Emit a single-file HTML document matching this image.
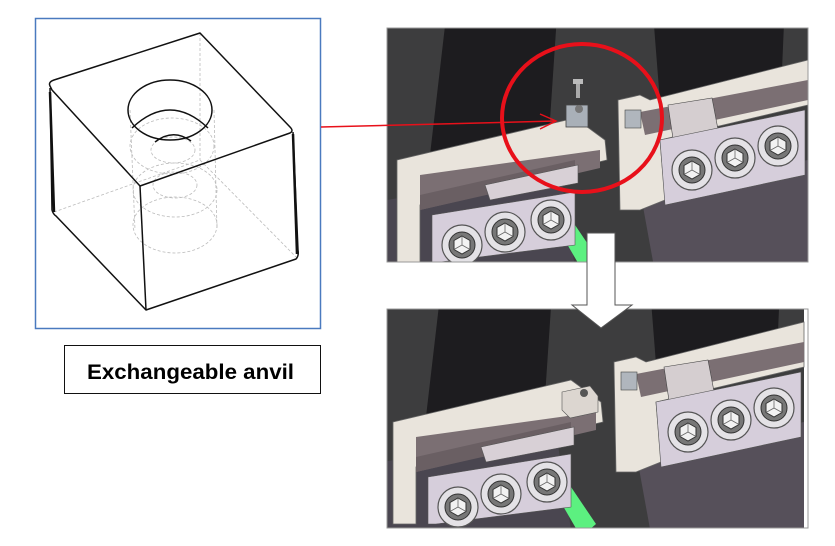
<!DOCTYPE html>
<html><head><meta charset="utf-8"><style>
html,body{margin:0;padding:0;background:#fff;}
svg{display:block;}
text{font-family:"Liberation Sans",sans-serif;}
</style></head><body>
<svg width="835" height="546" viewBox="0 0 835 546" xmlns="http://www.w3.org/2000/svg">
<defs>
<clipPath id="c1"><rect x="387" y="28" width="421" height="234"/></clipPath>
<clipPath id="c2"><rect x="387" y="309" width="421" height="219"/></clipPath>
<g id="bolt">
  <circle r="20" fill="#e4e2e6" stroke="#555" stroke-width="1.2"/>
  <circle r="13" fill="#777" stroke="#333" stroke-width="1"/>
  <polygon points="0,-9 8,-4.5 8,4.5 0,9 -8,4.5 -8,-4.5" fill="#f2f2f2" stroke="#333" stroke-width="1"/>
  <path d="M0,0 L0,-9 M0,0 L8,4.5 M0,0 L-8,4.5" stroke="#666" stroke-width="0.8"/>
</g>
<g id="scene">
  <rect x="387" y="0" width="421" height="300" fill="#3d3d3e"/>
  <polygon points="640,190 808,160 808,300 660,300" fill="#56505a"/>
  <polygon points="387,200 560,170 580,300 387,300" fill="#4a4650"/>
  <polygon points="448,0 558,0 548,150 428,172" fill="#1d1c1f"/>
  <polygon points="652,0 785,0 782,70 660,102" fill="#1d1c1f"/>
  <polygon points="560,232 575,225 600,262 585,275" fill="#5cf080"/>
  <polygon points="397,160 575,118 605,140 607,160 420,205 420,262 397,262" fill="#e9e4dc" stroke="#666" stroke-width="0.8"/>
  <polygon points="420,175 600,150 600,168 420,210" fill="#7b6f73"/>
  <polygon points="420,195 575,160 575,175 420,210" fill="#6a5f63"/>
  <polygon points="485,185 578,165 578,183 490,200" fill="#d8d0d6" stroke="#555" stroke-width="0.6"/>
  <polygon points="432,215 575,192 575,245 440,262 432,262" fill="#d6cedb" stroke="#555" stroke-width="0.6"/>
  <use href="#bolt" x="462" y="245"/>
  <use href="#bolt" x="505" y="232"/>
  <use href="#bolt" x="551" y="220"/>
  <polygon points="618,100 640,95 650,100 800,62 808,60 808,105 660,140 665,200 640,210 620,210" fill="#e9e4dc" stroke="#666" stroke-width="0.8"/>
  <polygon points="640,112 808,80 808,100 645,135" fill="#7b6f73"/>
  <polygon points="668,105 712,98 720,140 675,152" fill="#d5ced0" stroke="#444" stroke-width="0.6"/>
  <polygon points="660,140 805,110 805,175 665,205" fill="#d6cedb" stroke="#555" stroke-width="0.6"/>
  <rect x="625" y="110" width="16" height="18" fill="#b0b6bd" stroke="#444" stroke-width="0.6"/>
  <use href="#bolt" x="692" y="170"/>
  <use href="#bolt" x="735" y="158"/>
  <use href="#bolt" x="778" y="146"/>
</g>
</defs>

<rect x="35.5" y="18.5" width="285" height="310" fill="#fff" stroke="#4a7abf" stroke-width="1.5"/>
<g fill="none" stroke="#bbb" stroke-width="0.8" stroke-dasharray="3,2">
  <path d="M200,33 L200,160 M54,212 L200,160 L297,258"/>
  <ellipse cx="172" cy="146" rx="42" ry="28"/>
  <ellipse cx="173" cy="150" rx="22" ry="13"/>
  <ellipse cx="175" cy="190" rx="42" ry="27"/>
  <ellipse cx="175" cy="185" rx="22" ry="13"/>
  <ellipse cx="175" cy="225" rx="42" ry="28"/>
  <path d="M130,110 L135,230 M214,110 L217,230"/>
</g>
<g fill="none" stroke="#111" stroke-width="1.5" stroke-linejoin="round">
  <path d="M50,86 Q48,82 54,80 L200,33 L290,127 Q294,131 290,133 L140,186 L52,90 Z"/>
  <path d="M50,88 L52,210 Q53,214 56,216 L146,310 L296,259 Q299,256 298,250 L293,132"/>
  <path d="M140,186 L146,310"/>
  <path d="M50,92 L54,212" stroke-width="2.5"/>
  <path d="M293,134 L297,254" stroke-width="2.5"/>
  <ellipse cx="170" cy="110" rx="42" ry="30"/>
  <path d="M132,128 Q170,92 208,128"/>
  <path d="M155,142 Q173,128 191,141"/>
</g>

<rect x="64.5" y="345.5" width="256" height="48" fill="#fff" stroke="#111" stroke-width="1"/>
<text x="87" y="379" font-size="21" font-weight="bold" fill="#000" textLength="207" lengthAdjust="spacingAndGlyphs">Exchangeable anvil</text>

<g clip-path="url(#c1)"><use href="#scene"/>
  <rect x="566" y="105" width="22" height="22" fill="#a9b0b8" stroke="#444" stroke-width="0.8"/>
  <circle cx="579" cy="109" r="4" fill="#777"/>
  <rect x="576" y="82" width="4" height="16" fill="#aaa"/>
  <rect x="573" y="79" width="10" height="5" fill="#bbb"/>
</g>
<g clip-path="url(#c2)"><use href="#scene" transform="translate(-4,262)"/>
  <polygon points="562,392 590,386 598,396 598,412 570,418 562,410" fill="#dcd6d0" stroke="#555" stroke-width="0.6"/>
  <circle cx="584" cy="393" r="4" fill="#555"/>
</g>
<rect x="387" y="28" width="421" height="234" fill="none" stroke="#999" stroke-width="1"/>
<rect x="387" y="309" width="421" height="219" fill="none" stroke="#999" stroke-width="1"/>

<ellipse cx="582" cy="118" rx="80" ry="74" fill="none" stroke="#e8101a" stroke-width="4"/>
<line x1="321" y1="127" x2="556" y2="121" stroke="#e8101a" stroke-width="1.5"/>
<path d="M540,114 L556,121 L540,129" fill="none" stroke="#e8101a" stroke-width="1.5"/>

<polygon points="587,233 615,233 615,305 632,305 601,328 572,305 587,305" fill="#fff" stroke="#555" stroke-width="1"/>
</svg>
</body></html>
